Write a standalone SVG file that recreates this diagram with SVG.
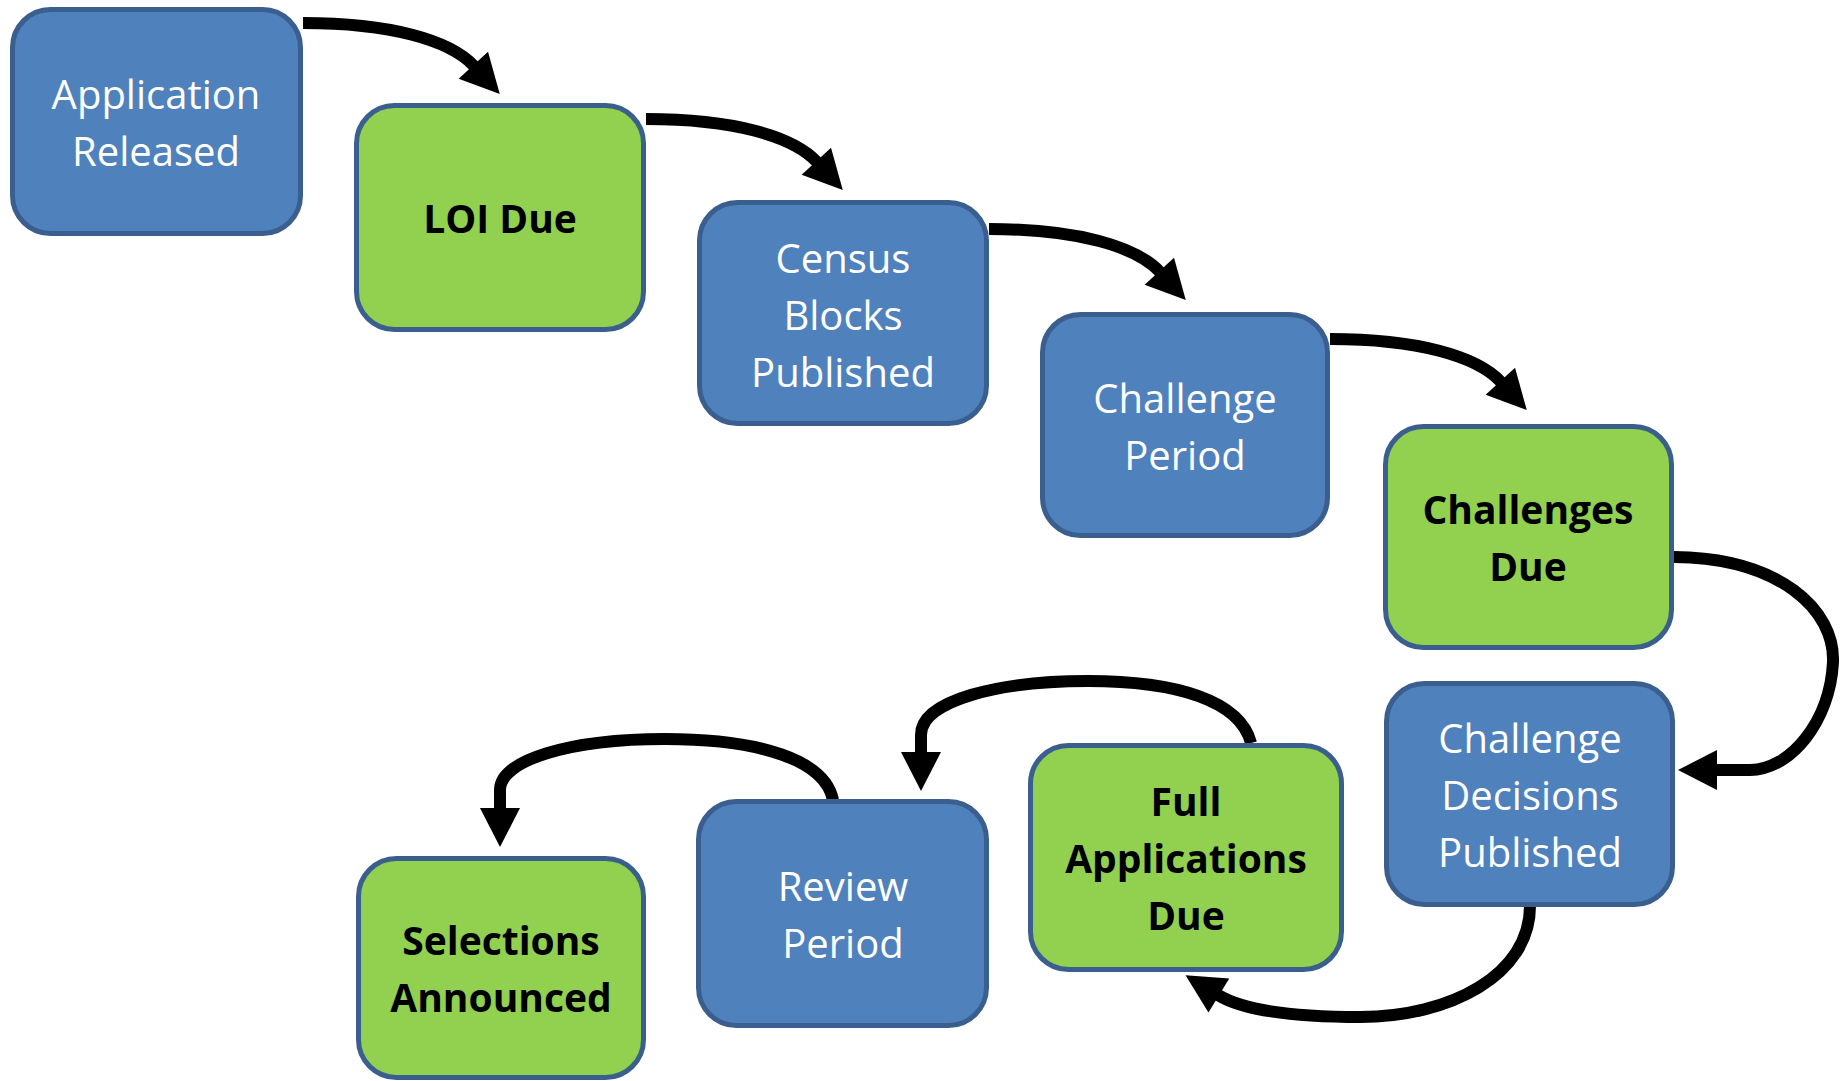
<svg xmlns="http://www.w3.org/2000/svg" width="1841" height="1081" viewBox="0 0 1841 1081">
<style>
.box{stroke:#3A5F8E;stroke-width:5}
.blue{fill:#4F81BD}
.green{fill:#92D050}
.tw{font-family:"Open Sans","Noto Sans",sans-serif;font-size:40px;fill:#FFFFFF;text-anchor:middle}
.tb{font-family:"Open Sans","Noto Sans",sans-serif;font-size:39px;font-weight:bold;fill:#000000;text-anchor:middle}
.conn{fill:none;stroke:#000;stroke-width:12;marker-end:url(#ah)}
</style>
<defs>
<marker id="ah" markerUnits="userSpaceOnUse" markerWidth="44" markerHeight="44" viewBox="0 -22 42 44" refX="1" refY="0" orient="auto">
<path d="M0,-20 L39,0 L0,20 Z" fill="#000"/>
</marker>
</defs>
<rect width="1841" height="1081" fill="#FFFFFF"/>
<g id="connectors">
<path class="conn" d="M303,23 C390,23 450,40 474,66"/>
<path class="conn" d="M646,119 C733,119 793,136 817,162"/>
<path class="conn" d="M989,229 C1076,229 1136,246 1160,272"/>
<path class="conn" d="M1330,339 C1417,339 1477,356 1501,382"/>
<path class="conn" d="M1674,557 C1780,558 1835,610 1833,662 C1830,722 1790,770 1750,770 L1716,770"/>
<path class="conn" d="M1530,906 C1530,975 1450,1017 1360,1017 C1300,1017 1246,1012 1218,995"/>
<path class="conn" d="M1251,743 C1240,700 1175,681 1088,681 C1000,681 921,700 921,735 L921,753"/>
<path class="conn" d="M833,800 C825,760 760,739 665,739 C570,739 500,760 500,790 L500,809"/>
</g>
<g id="n1">
<rect class="box blue" x="12.5" y="9.5" width="288" height="224" rx="38"/>
<text class="tw" x="156" y="109">Application</text>
<text class="tw" x="156" y="166">Released</text>
</g>
<g id="n2">
<rect class="box green" x="356.5" y="105.5" width="287" height="224" rx="38"/>
<text class="tb" x="500" y="233">LOI Due</text>
</g>
<g id="n3">
<rect class="box blue" x="699.5" y="202.5" width="287" height="221" rx="38"/>
<text class="tw" x="843" y="273">Census</text>
<text class="tw" x="843" y="330">Blocks</text>
<text class="tw" x="843" y="387">Published</text>
</g>
<g id="n4">
<rect class="box blue" x="1042.5" y="314.5" width="285" height="221" rx="38"/>
<text class="tw" x="1185" y="413">Challenge</text>
<text class="tw" x="1185" y="470">Period</text>
</g>
<g id="n5">
<rect class="box green" x="1385.5" y="426.5" width="286" height="221" rx="38"/>
<text class="tb" x="1528" y="524">Challenges</text>
<text class="tb" x="1528" y="581">Due</text>
</g>
<g id="n6">
<rect class="box blue" x="1386.5" y="683.5" width="286" height="221" rx="38"/>
<text class="tw" x="1530" y="753">Challenge</text>
<text class="tw" x="1530" y="810">Decisions</text>
<text class="tw" x="1530" y="867">Published</text>
</g>
<g id="n7">
<rect class="box green" x="1030.5" y="745.5" width="311" height="224" rx="38"/>
<text class="tb" x="1186" y="816">Full</text>
<text class="tb" x="1186" y="873">Applications</text>
<text class="tb" x="1186" y="930">Due</text>
</g>
<g id="n8">
<rect class="box blue" x="698.5" y="801.5" width="288" height="224" rx="38"/>
<text class="tw" x="843" y="901">Review</text>
<text class="tw" x="843" y="958">Period</text>
</g>
<g id="n9">
<rect class="box green" x="358.5" y="858.5" width="285" height="219" rx="38"/>
<text class="tb" x="501" y="955">Selections</text>
<text class="tb" x="501" y="1012">Announced</text>
</g>
</svg>
